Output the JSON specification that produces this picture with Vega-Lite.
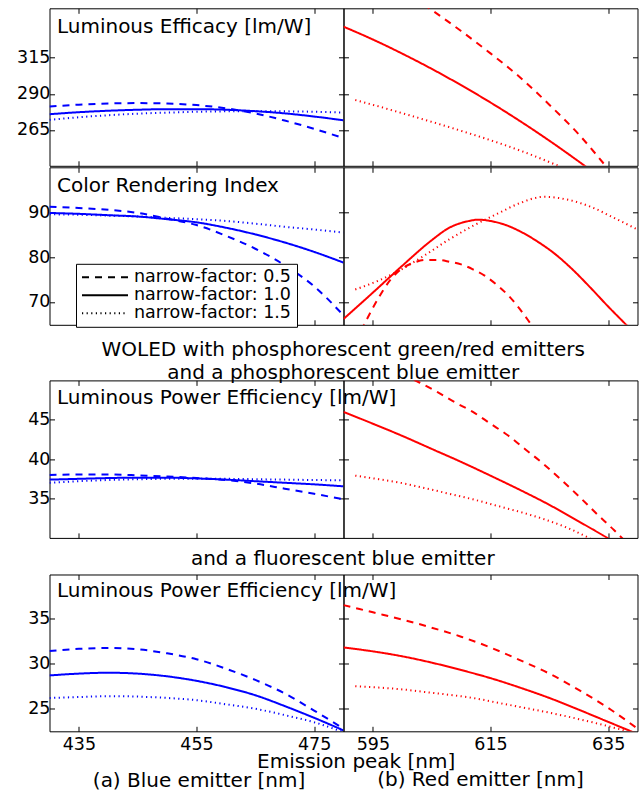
{
"$schema":"https://vega.github.io/schema/vega-lite/v6.json",
"padding":{"left":4.5,"top":7.3,"right":4,"bottom":3},
"background":"white",
"config":{
 "font":"DejaVu Sans",
 "view":{"stroke":"black","strokeWidth":1,"fill":null},
 "axis":{"grid":false,"domain":false,"ticks":true,"tickColor":"black","tickSize":-5,"tickWidth":1,"labelFont":"DejaVu Sans","labelFontSize":17.5,"labelColor":"black","labelPadding":4.6,"labelFlush":false,"labelOverlap":false,"labelBound":false,"titleFont":"DejaVu Sans","titleFontSize":20,"titleFontWeight":"normal","titleColor":"black","minExtent":0},
 "axisX":{"labelPadding":9.2,"minExtent":0},
 "axisY":{"minExtent":0},
 "title":{"font":"DejaVu Sans","fontSize":20,"fontWeight":"normal","color":"black"}
},
"datasets":{
 "r1b":[
  {"nf":"0.5","wl":430,"v":281.2},{"nf":"0.5","wl":435,"v":282.5},{"nf":"0.5","wl":440,"v":283.3},{"nf":"0.5","wl":445,"v":283.6},{"nf":"0.5","wl":450,"v":283.3},{"nf":"0.5","wl":455,"v":282.2},{"nf":"0.5","wl":460,"v":280.0},{"nf":"0.5","wl":465,"v":276.5},{"nf":"0.5","wl":470,"v":271.5},{"nf":"0.5","wl":475,"v":265.8},{"nf":"0.5","wl":480,"v":259.3},
  {"nf":"1.0","wl":430,"v":275.9},{"nf":"1.0","wl":435,"v":277.3},{"nf":"1.0","wl":440,"v":278.3},{"nf":"1.0","wl":445,"v":279.0},{"nf":"1.0","wl":450,"v":279.4},{"nf":"1.0","wl":455,"v":279.4},{"nf":"1.0","wl":460,"v":279.0},{"nf":"1.0","wl":465,"v":278.0},{"nf":"1.0","wl":470,"v":276.5},{"nf":"1.0","wl":475,"v":274.3},{"nf":"1.0","wl":480,"v":271.7},
  {"nf":"1.5","wl":430,"v":272.0},{"nf":"1.5","wl":435,"v":273.8},{"nf":"1.5","wl":440,"v":275.2},{"nf":"1.5","wl":445,"v":276.3},{"nf":"1.5","wl":450,"v":277.0},{"nf":"1.5","wl":455,"v":277.6},{"nf":"1.5","wl":460,"v":277.9},{"nf":"1.5","wl":465,"v":278.0},{"nf":"1.5","wl":470,"v":277.9},{"nf":"1.5","wl":475,"v":277.6},{"nf":"1.5","wl":480,"v":277.0}],
 "r1r":[
  {"nf":"0.5","wl":600,"v":362},{"nf":"0.5","wl":605,"v":348},{"nf":"0.5","wl":610,"v":333.5},{"nf":"0.5","wl":615,"v":318},{"nf":"0.5","wl":620,"v":301.5},{"nf":"0.5","wl":625,"v":282.5},{"nf":"0.5","wl":630,"v":262},{"nf":"0.5","wl":635,"v":238},
  {"nf":"1.0","wl":590,"v":336.5},{"nf":"1.0","wl":595,"v":327.6},{"nf":"1.0","wl":600,"v":317.8},{"nf":"1.0","wl":605,"v":307.3},{"nf":"1.0","wl":610,"v":296.0},{"nf":"1.0","wl":615,"v":284.0},{"nf":"1.0","wl":620,"v":271.2},{"nf":"1.0","wl":625,"v":257.6},{"nf":"1.0","wl":630,"v":243.2},{"nf":"1.0","wl":635,"v":228.1},
  {"nf":"1.5","wl":592,"v":285.7},{"nf":"1.5","wl":595,"v":282.4},{"nf":"1.5","wl":600,"v":276.6},{"nf":"1.5","wl":605,"v":270.6},{"nf":"1.5","wl":610,"v":264.4},{"nf":"1.5","wl":615,"v":257.9},{"nf":"1.5","wl":620,"v":250.8},{"nf":"1.5","wl":625,"v":242.8},{"nf":"1.5","wl":630,"v":234}],
 "r2b":[
  {"nf":"0.5","wl":430,"v":91.3},{"nf":"0.5","wl":435,"v":91.0},{"nf":"0.5","wl":440,"v":90.6},{"nf":"0.5","wl":445,"v":89.9},{"nf":"0.5","wl":450,"v":88.6},{"nf":"0.5","wl":455,"v":87.2},{"nf":"0.5","wl":460,"v":84.8},{"nf":"0.5","wl":465,"v":81.9},{"nf":"0.5","wl":470,"v":78.2},{"nf":"0.5","wl":475,"v":73.5},{"nf":"0.5","wl":480,"v":67.0},
  {"nf":"1.0","wl":430,"v":89.9},{"nf":"1.0","wl":435,"v":89.7},{"nf":"1.0","wl":440,"v":89.4},{"nf":"1.0","wl":445,"v":89.1},{"nf":"1.0","wl":450,"v":88.5},{"nf":"1.0","wl":455,"v":87.8},{"nf":"1.0","wl":460,"v":86.6},{"nf":"1.0","wl":465,"v":85.1},{"nf":"1.0","wl":470,"v":83.3},{"nf":"1.0","wl":475,"v":81.2},{"nf":"1.0","wl":480,"v":78.8},
  {"nf":"1.5","wl":430,"v":89.6},{"nf":"1.5","wl":435,"v":89.5},{"nf":"1.5","wl":440,"v":89.3},{"nf":"1.5","wl":445,"v":89.1},{"nf":"1.5","wl":450,"v":88.8},{"nf":"1.5","wl":455,"v":88.5},{"nf":"1.5","wl":460,"v":88.1},{"nf":"1.5","wl":465,"v":87.5},{"nf":"1.5","wl":470,"v":86.8},{"nf":"1.5","wl":475,"v":86.2},{"nf":"1.5","wl":480,"v":85.5}],
 "r2r":[
  {"nf":"0.5","wl":592,"v":61},{"nf":"0.5","wl":594,"v":66.2},{"nf":"0.5","wl":596,"v":71},{"nf":"0.5","wl":598,"v":75},{"nf":"0.5","wl":600,"v":77.5},{"nf":"0.5","wl":602,"v":78.8},{"nf":"0.5","wl":604,"v":79.4},{"nf":"0.5","wl":606,"v":79.4},{"nf":"0.5","wl":608,"v":79.0},{"nf":"0.5","wl":610,"v":78.4},{"nf":"0.5","wl":612,"v":77.3},{"nf":"0.5","wl":614,"v":75.9},{"nf":"0.5","wl":616,"v":73.9},{"nf":"0.5","wl":618,"v":71.5},{"nf":"0.5","wl":620,"v":68.4},{"nf":"0.5","wl":622,"v":64.8},{"nf":"0.5","wl":623,"v":63},
  {"nf":"1.0","wl":590,"v":66.2},{"nf":"1.0","wl":595,"v":72.1},{"nf":"1.0","wl":600,"v":78.1},{"nf":"1.0","wl":605,"v":83.8},{"nf":"1.0","wl":608,"v":86.6},{"nf":"1.0","wl":611,"v":88.0},{"nf":"1.0","wl":613,"v":88.4},{"nf":"1.0","wl":615,"v":88.1},{"nf":"1.0","wl":618,"v":87.0},{"nf":"1.0","wl":620,"v":85.8},{"nf":"1.0","wl":623,"v":83.5},{"nf":"1.0","wl":626,"v":80.7},{"nf":"1.0","wl":629,"v":77.2},{"nf":"1.0","wl":632,"v":73.2},{"nf":"1.0","wl":635,"v":69.0},{"nf":"1.0","wl":638,"v":65.0},{"nf":"1.0","wl":640,"v":62.3},
  {"nf":"1.5","wl":592,"v":72.8},{"nf":"1.5","wl":596,"v":74.8},{"nf":"1.5","wl":600,"v":77.4},{"nf":"1.5","wl":604,"v":80.6},{"nf":"1.5","wl":608,"v":84.0},{"nf":"1.5","wl":612,"v":87.0},{"nf":"1.5","wl":616,"v":89.6},{"nf":"1.5","wl":620,"v":92.1},{"nf":"1.5","wl":624,"v":93.5},{"nf":"1.5","wl":628,"v":92.9},{"nf":"1.5","wl":632,"v":91.3},{"nf":"1.5","wl":636,"v":88.8},{"nf":"1.5","wl":640,"v":86.2}],
 "r3b":[
  {"nf":"0.5","wl":430,"v":38.0},{"nf":"0.5","wl":435,"v":38.05},{"nf":"0.5","wl":440,"v":38.05},{"nf":"0.5","wl":445,"v":37.95},{"nf":"0.5","wl":450,"v":37.8},{"nf":"0.5","wl":455,"v":37.6},{"nf":"0.5","wl":460,"v":37.35},{"nf":"0.5","wl":465,"v":36.9},{"nf":"0.5","wl":470,"v":36.25},{"nf":"0.5","wl":475,"v":35.6},{"nf":"0.5","wl":480,"v":34.9},
  {"nf":"1.0","wl":430,"v":37.4},{"nf":"1.0","wl":435,"v":37.5},{"nf":"1.0","wl":440,"v":37.6},{"nf":"1.0","wl":445,"v":37.65},{"nf":"1.0","wl":450,"v":37.65},{"nf":"1.0","wl":455,"v":37.55},{"nf":"1.0","wl":460,"v":37.4},{"nf":"1.0","wl":465,"v":37.2},{"nf":"1.0","wl":470,"v":37.0},{"nf":"1.0","wl":475,"v":36.8},{"nf":"1.0","wl":480,"v":36.55},
  {"nf":"1.5","wl":430,"v":37.0},{"nf":"1.5","wl":435,"v":37.2},{"nf":"1.5","wl":440,"v":37.35},{"nf":"1.5","wl":445,"v":37.45},{"nf":"1.5","wl":450,"v":37.5},{"nf":"1.5","wl":455,"v":37.5},{"nf":"1.5","wl":460,"v":37.5},{"nf":"1.5","wl":465,"v":37.45},{"nf":"1.5","wl":470,"v":37.4},{"nf":"1.5","wl":475,"v":37.35},{"nf":"1.5","wl":480,"v":37.3}],
 "r3r":[
  {"nf":"0.5","wl":600,"v":50.8},{"nf":"0.5","wl":603,"v":49.7},{"nf":"0.5","wl":606,"v":48.5},{"nf":"0.5","wl":609,"v":47.2},{"nf":"0.5","wl":612,"v":46.0},{"nf":"0.5","wl":615,"v":44.5},{"nf":"0.5","wl":618,"v":43.0},{"nf":"0.5","wl":621,"v":41.2},{"nf":"0.5","wl":624,"v":39.4},{"nf":"0.5","wl":627,"v":37.4},{"nf":"0.5","wl":630,"v":35.3},{"nf":"0.5","wl":633,"v":33.1},{"nf":"0.5","wl":636,"v":31.0},{"nf":"0.5","wl":638,"v":29.5},
  {"nf":"1.0","wl":590,"v":46.0},{"nf":"1.0","wl":595,"v":44.5},{"nf":"1.0","wl":600,"v":42.95},{"nf":"1.0","wl":605,"v":41.3},{"nf":"1.0","wl":610,"v":39.65},{"nf":"1.0","wl":615,"v":37.9},{"nf":"1.0","wl":620,"v":36.1},{"nf":"1.0","wl":625,"v":34.2},{"nf":"1.0","wl":630,"v":32.1},{"nf":"1.0","wl":635,"v":29.95},
  {"nf":"1.5","wl":592,"v":37.9},{"nf":"1.5","wl":596,"v":37.45},{"nf":"1.5","wl":600,"v":36.95},{"nf":"1.5","wl":604,"v":36.3},{"nf":"1.5","wl":608,"v":35.6},{"nf":"1.5","wl":612,"v":34.9},{"nf":"1.5","wl":616,"v":34.1},{"nf":"1.5","wl":620,"v":33.3},{"nf":"1.5","wl":624,"v":32.4},{"nf":"1.5","wl":628,"v":31.3},{"nf":"1.5","wl":632,"v":29.9}],
 "r4b":[
  {"nf":"0.5","wl":430,"v":31.4},{"nf":"0.5","wl":435,"v":31.65},{"nf":"0.5","wl":440,"v":31.75},{"nf":"0.5","wl":445,"v":31.6},{"nf":"0.5","wl":450,"v":31.15},{"nf":"0.5","wl":455,"v":30.5},{"nf":"0.5","wl":460,"v":29.45},{"nf":"0.5","wl":465,"v":28.2},{"nf":"0.5","wl":470,"v":26.7},{"nf":"0.5","wl":475,"v":24.8},{"nf":"0.5","wl":480,"v":22.8},
  {"nf":"1.0","wl":430,"v":28.7},{"nf":"1.0","wl":435,"v":28.9},{"nf":"1.0","wl":440,"v":29.0},{"nf":"1.0","wl":445,"v":28.9},{"nf":"1.0","wl":450,"v":28.6},{"nf":"1.0","wl":455,"v":28.1},{"nf":"1.0","wl":460,"v":27.4},{"nf":"1.0","wl":465,"v":26.5},{"nf":"1.0","wl":470,"v":25.3},{"nf":"1.0","wl":475,"v":24.0},{"nf":"1.0","wl":480,"v":22.6},
  {"nf":"1.5","wl":430,"v":26.2},{"nf":"1.5","wl":435,"v":26.3},{"nf":"1.5","wl":440,"v":26.4},{"nf":"1.5","wl":445,"v":26.35},{"nf":"1.5","wl":450,"v":26.2},{"nf":"1.5","wl":455,"v":25.95},{"nf":"1.5","wl":460,"v":25.5},{"nf":"1.5","wl":465,"v":25.0},{"nf":"1.5","wl":470,"v":24.3},{"nf":"1.5","wl":475,"v":23.5},{"nf":"1.5","wl":480,"v":22.4}],
 "r4r":[
  {"nf":"0.5","wl":590,"v":36.5},{"nf":"0.5","wl":595,"v":35.7},{"nf":"0.5","wl":600,"v":34.9},{"nf":"0.5","wl":605,"v":34.0},{"nf":"0.5","wl":610,"v":33.0},{"nf":"0.5","wl":615,"v":31.8},{"nf":"0.5","wl":620,"v":30.4},{"nf":"0.5","wl":625,"v":28.9},{"nf":"0.5","wl":630,"v":27.1},{"nf":"0.5","wl":635,"v":25.1},{"nf":"0.5","wl":640,"v":22.8},
  {"nf":"1.0","wl":590,"v":31.8},{"nf":"1.0","wl":595,"v":31.37},{"nf":"1.0","wl":600,"v":30.82},{"nf":"1.0","wl":605,"v":30.12},{"nf":"1.0","wl":610,"v":29.3},{"nf":"1.0","wl":615,"v":28.4},{"nf":"1.0","wl":620,"v":27.35},{"nf":"1.0","wl":625,"v":26.2},{"nf":"1.0","wl":630,"v":24.9},{"nf":"1.0","wl":635,"v":23.55},{"nf":"1.0","wl":640,"v":22.2},
  {"nf":"1.5","wl":592,"v":27.5},{"nf":"1.5","wl":596,"v":27.35},{"nf":"1.5","wl":600,"v":27.15},{"nf":"1.5","wl":604,"v":26.85},{"nf":"1.5","wl":608,"v":26.55},{"nf":"1.5","wl":612,"v":26.2},{"nf":"1.5","wl":616,"v":25.7},{"nf":"1.5","wl":620,"v":25.2},{"nf":"1.5","wl":624,"v":24.7},{"nf":"1.5","wl":628,"v":24.15},{"nf":"1.5","wl":632,"v":23.55},{"nf":"1.5","wl":636,"v":22.9},{"nf":"1.5","wl":638,"v":22.55}]
},
"spacing":9.2,
"resolve":{"scale":{"strokeDash":"independent"},"legend":{"strokeDash":"independent"}},
"vconcat":[
 {"spacing":11.1,
  "resolve":{"scale":{"strokeDash":"independent"},"legend":{"strokeDash":"independent"}},
  "vconcat":[
   {"spacing":-3,
    "resolve":{"scale":{"strokeDash":"independent"},"legend":{"strokeDash":"independent"}},
    "vconcat":[
     {"hconcat":[
       {"width":294,"height":157.5,"data":{"name":"r1b"},
        "title":{"text":"Luminous Efficacy [lm/W]","anchor":"start","frame":"group","offset":-29,"dx":7.5},
        "layer":[
         {"transform":[{"filter":"datum.nf != '1.5'"}],"mark":{"type":"line","color":"#0000ff","strokeWidth":2,"clip":true,"interpolate":"monotone"},
          "encoding":{"x":{"field":"wl","type":"quantitative","scale":{"domain":[430,480],"nice":false,"zero":false},"axis":{"orient":"bottom","values":[435,455,475],"labels":false,"title":null}},
           "y":{"field":"v","type":"quantitative","scale":{"domain":[240.2,349.2],"nice":false,"zero":false},"axis":{"orient":"left","values":[265,290,315],"title":null,"minExtent":44}},
           "strokeDash":{"field":"nf","type":"nominal","scale":{"domain":["0.5","1.0","1.5"],"range":[[7,6],[1,0],[1.2,3.4]]},"legend":null}}},
         {"transform":[{"filter":"datum.nf == '1.5'"}],"mark":{"type":"line","color":"#0000ff","strokeWidth":2,"clip":true,"interpolate":"monotone"},
          "encoding":{"x":{"field":"wl","type":"quantitative","scale":{"domain":[430,480],"nice":false,"zero":false},"axis":{"orient":"top","values":[435,455,475],"labels":false,"title":null}},
           "y":{"field":"v","type":"quantitative","scale":{"domain":[240.2,349.2],"nice":false,"zero":false},"axis":{"orient":"right","values":[265,290,315],"labels":false,"title":null}},
           "strokeDash":{"field":"nf","type":"nominal","scale":{"domain":["0.5","1.0","1.5"],"range":[[7,6],[1,0],[1.2,3.4]]},"legend":null}}}],
        "resolve":{"scale":{"x":"independent","y":"independent"}}},
       {"width":294,"height":157.5,"data":{"name":"r1r"},
        "layer":[
         {"transform":[{"filter":"datum.nf != '1.5'"}],"mark":{"type":"line","color":"#ff0000","strokeWidth":2,"clip":true,"interpolate":"monotone"},
          "encoding":{"x":{"field":"wl","type":"quantitative","scale":{"domain":[590,640],"nice":false,"zero":false},"axis":{"orient":"bottom","values":[595,615,635],"labels":false,"title":null}},
           "y":{"field":"v","type":"quantitative","scale":{"domain":[240.2,349.2],"nice":false,"zero":false},"axis":{"orient":"left","values":[265,290,315],"labels":false,"title":null}},
           "strokeDash":{"field":"nf","type":"nominal","scale":{"domain":["0.5","1.0","1.5"],"range":[[7,6],[1,0],[1.2,3.4]]},"legend":null}}},
         {"transform":[{"filter":"datum.nf == '1.5'"}],"mark":{"type":"line","color":"#ff0000","strokeWidth":2,"clip":true,"interpolate":"monotone"},
          "encoding":{"x":{"field":"wl","type":"quantitative","scale":{"domain":[590,640],"nice":false,"zero":false},"axis":{"orient":"top","values":[595,615,635],"labels":false,"title":null}},
           "y":{"field":"v","type":"quantitative","scale":{"domain":[240.2,349.2],"nice":false,"zero":false},"axis":{"orient":"right","values":[265,290,315],"labels":false,"title":null}},
           "strokeDash":{"field":"nf","type":"nominal","scale":{"domain":["0.5","1.0","1.5"],"range":[[7,6],[1,0],[1.2,3.4]]},"legend":null}}}],
        "resolve":{"scale":{"x":"independent","y":"independent"}}}
      ],"spacing":0,"bounds":"flush","resolve":{"scale":{"strokeDash":"independent"},"legend":{"strokeDash":"independent"}}},
     {"hconcat":[
       {"width":294,"height":157.5,"data":{"name":"r2b"},
        "title":{"text":"Color Rendering Index","anchor":"start","frame":"group","offset":-29,"dx":7.5},
        "layer":[
         {"transform":[{"filter":"datum.nf != '1.5'"}],"mark":{"type":"line","color":"#0000ff","strokeWidth":2,"clip":true,"interpolate":"monotone"},
          "encoding":{"x":{"field":"wl","type":"quantitative","scale":{"domain":[430,480],"nice":false,"zero":false},"axis":{"orient":"bottom","values":[435,455,475],"labels":false,"title":null}},
           "y":{"field":"v","type":"quantitative","scale":{"domain":[64.9,100.1],"nice":false,"zero":false},"axis":{"orient":"left","values":[70,80,90],"title":null,"minExtent":44}},
           "strokeDash":{"field":"nf","type":"nominal","scale":{"domain":["0.5","1.0","1.5"],"range":[[7,6],[1,0],[1.2,3.4]]},
            "legend":{"orient":"none","legendX":26.5,"legendY":96.5,"title":null,"symbolType":"stroke","symbolSize":2116,"clipHeight":16.7,"symbolStrokeColor":"black","symbolStrokeWidth":2,"labelFontSize":17.5,"labelFont":"DejaVu Sans","labelColor":"black","labelExpr":"'narrow-factor: ' + datum.label","labelOffset":5,"labelLimit":400,"padding":5,"strokeColor":"black","fillColor":"white","rowPadding":0,"cornerRadius":0,"encode":{"symbols":{"update":{"stroke":{"value":"black"}}}}}}}},
         {"transform":[{"filter":"datum.nf == '1.5'"}],"mark":{"type":"line","color":"#0000ff","strokeWidth":2,"clip":true,"interpolate":"monotone"},
          "encoding":{"x":{"field":"wl","type":"quantitative","scale":{"domain":[430,480],"nice":false,"zero":false},"axis":{"orient":"top","values":[435,455,475],"labels":false,"title":null}},
           "y":{"field":"v","type":"quantitative","scale":{"domain":[64.9,100.1],"nice":false,"zero":false},"axis":{"orient":"right","values":[70,80,90],"labels":false,"title":null}},
           "strokeDash":{"field":"nf","type":"nominal","scale":{"domain":["0.5","1.0","1.5"],"range":[[7,6],[1,0],[1.2,3.4]]},
            "legend":{"orient":"none","legendX":26.5,"legendY":96.5,"title":null,"symbolType":"stroke","symbolSize":2116,"clipHeight":16.7,"symbolStrokeColor":"black","symbolStrokeWidth":2,"labelFontSize":17.5,"labelFont":"DejaVu Sans","labelColor":"black","labelExpr":"'narrow-factor: ' + datum.label","labelOffset":5,"labelLimit":400,"padding":5,"strokeColor":"black","fillColor":"white","rowPadding":0,"cornerRadius":0,"encode":{"symbols":{"update":{"stroke":{"value":"black"}}}}}}}}],
        "resolve":{"scale":{"x":"independent","y":"independent"}}},
       {"width":294,"height":157.5,"data":{"name":"r2r"},
        "layer":[
         {"transform":[{"filter":"datum.nf != '1.5'"}],"mark":{"type":"line","color":"#ff0000","strokeWidth":2,"clip":true,"interpolate":"monotone"},
          "encoding":{"x":{"field":"wl","type":"quantitative","scale":{"domain":[590,640],"nice":false,"zero":false},"axis":{"orient":"bottom","values":[595,615,635],"labels":false,"title":null}},
           "y":{"field":"v","type":"quantitative","scale":{"domain":[64.9,100.1],"nice":false,"zero":false},"axis":{"orient":"left","values":[70,80,90],"labels":false,"title":null}},
           "strokeDash":{"field":"nf","type":"nominal","scale":{"domain":["0.5","1.0","1.5"],"range":[[7,6],[1,0],[1.2,3.4]]},"legend":null}}},
         {"transform":[{"filter":"datum.nf == '1.5'"}],"mark":{"type":"line","color":"#ff0000","strokeWidth":2,"clip":true,"interpolate":"monotone"},
          "encoding":{"x":{"field":"wl","type":"quantitative","scale":{"domain":[590,640],"nice":false,"zero":false},"axis":{"orient":"top","values":[595,615,635],"labels":false,"title":null}},
           "y":{"field":"v","type":"quantitative","scale":{"domain":[64.9,100.1],"nice":false,"zero":false},"axis":{"orient":"right","values":[70,80,90],"labels":false,"title":null}},
           "strokeDash":{"field":"nf","type":"nominal","scale":{"domain":["0.5","1.0","1.5"],"range":[[7,6],[1,0],[1.2,3.4]]},"legend":null}}}],
        "resolve":{"scale":{"x":"independent","y":"independent"}}}
      ],"spacing":0,"bounds":"flush","resolve":{"scale":{"strokeDash":"independent"},"legend":{"strokeDash":"independent"}}}
    ]},
   {"title":{"text":["WOLED with phosphorescent green/red emitters","and a phosphorescent blue emitter"],"anchor":"middle","frame":"bounds","dx":21.5,"lineHeight":23.3,"offset":-3.9},
    "hconcat":[
       {"width":294,"height":157.5,"data":{"name":"r3b"},
        "title":{"text":"Luminous Power Efficiency [lm/W]","anchor":"start","frame":"group","offset":-28.5,"dx":7.5},
        "layer":[
         {"transform":[{"filter":"datum.nf != '1.5'"}],"mark":{"type":"line","color":"#0000ff","strokeWidth":2,"clip":true,"interpolate":"monotone"},
          "encoding":{"x":{"field":"wl","type":"quantitative","scale":{"domain":[430,480],"nice":false,"zero":false},"axis":{"orient":"bottom","values":[435,455,475],"labels":false,"title":null}},
           "y":{"field":"v","type":"quantitative","scale":{"domain":[30,50],"nice":false,"zero":false},"axis":{"orient":"left","values":[35,40,45],"title":null,"minExtent":44}},
           "strokeDash":{"field":"nf","type":"nominal","scale":{"domain":["0.5","1.0","1.5"],"range":[[7,6],[1,0],[1.2,3.4]]},"legend":null}}},
         {"transform":[{"filter":"datum.nf == '1.5'"}],"mark":{"type":"line","color":"#0000ff","strokeWidth":2,"clip":true,"interpolate":"monotone"},
          "encoding":{"x":{"field":"wl","type":"quantitative","scale":{"domain":[430,480],"nice":false,"zero":false},"axis":{"orient":"top","values":[435,455,475],"labels":false,"title":null}},
           "y":{"field":"v","type":"quantitative","scale":{"domain":[30,50],"nice":false,"zero":false},"axis":{"orient":"right","values":[35,40,45],"labels":false,"title":null}},
           "strokeDash":{"field":"nf","type":"nominal","scale":{"domain":["0.5","1.0","1.5"],"range":[[7,6],[1,0],[1.2,3.4]]},"legend":null}}}],
        "resolve":{"scale":{"x":"independent","y":"independent"}}},
       {"width":294,"height":157.5,"data":{"name":"r3r"},
        "layer":[
         {"transform":[{"filter":"datum.nf != '1.5'"}],"mark":{"type":"line","color":"#ff0000","strokeWidth":2,"clip":true,"interpolate":"monotone"},
          "encoding":{"x":{"field":"wl","type":"quantitative","scale":{"domain":[590,640],"nice":false,"zero":false},"axis":{"orient":"bottom","values":[595,615,635],"labels":false,"title":null}},
           "y":{"field":"v","type":"quantitative","scale":{"domain":[30,50],"nice":false,"zero":false},"axis":{"orient":"left","values":[35,40,45],"labels":false,"title":null}},
           "strokeDash":{"field":"nf","type":"nominal","scale":{"domain":["0.5","1.0","1.5"],"range":[[7,6],[1,0],[1.2,3.4]]},"legend":null}}},
         {"transform":[{"filter":"datum.nf == '1.5'"}],"mark":{"type":"line","color":"#ff0000","strokeWidth":2,"clip":true,"interpolate":"monotone"},
          "encoding":{"x":{"field":"wl","type":"quantitative","scale":{"domain":[590,640],"nice":false,"zero":false},"axis":{"orient":"top","values":[595,615,635],"labels":false,"title":null}},
           "y":{"field":"v","type":"quantitative","scale":{"domain":[30,50],"nice":false,"zero":false},"axis":{"orient":"right","values":[35,40,45],"labels":false,"title":null}},
           "strokeDash":{"field":"nf","type":"nominal","scale":{"domain":["0.5","1.0","1.5"],"range":[[7,6],[1,0],[1.2,3.4]]},"legend":null}}}],
        "resolve":{"scale":{"x":"independent","y":"independent"}}}
    ],"spacing":0,"bounds":"flush","resolve":{"scale":{"strokeDash":"independent"},"legend":{"strokeDash":"independent"}}}
  ]},
 {"title":{"text":"and a fluorescent blue emitter","anchor":"middle","frame":"bounds","dx":21,"offset":4.2},
  "hconcat":[
       {"width":294,"height":156.8,"data":{"name":"r4b"},
        "title":{"text":"Luminous Power Efficiency [lm/W]","anchor":"start","frame":"group","offset":-27.5,"dx":7.5},
        "layer":[
         {"transform":[{"filter":"datum.nf != '1.5'"}],"mark":{"type":"line","color":"#0000ff","strokeWidth":2,"clip":true,"interpolate":"monotone"},
          "encoding":{"x":{"field":"wl","type":"quantitative","scale":{"domain":[430,480],"nice":false,"zero":false},"axis":{"orient":"bottom","values":[435,455,475],"title":"(a) Blue emitter [nm]","titleX":149,"titleY":55,"titleBaseline":"alphabetic","titleAlign":"center"}},
           "y":{"field":"v","type":"quantitative","scale":{"domain":[22.5,39.9],"nice":false,"zero":false},"axis":{"orient":"left","values":[25,30,35],"title":null,"minExtent":44}},
           "strokeDash":{"field":"nf","type":"nominal","scale":{"domain":["0.5","1.0","1.5"],"range":[[7,6],[1,0],[1.2,3.4]]},"legend":null}}},
         {"transform":[{"filter":"datum.nf == '1.5'"}],"mark":{"type":"line","color":"#0000ff","strokeWidth":2,"clip":true,"interpolate":"monotone"},
          "encoding":{"x":{"field":"wl","type":"quantitative","scale":{"domain":[430,480],"nice":false,"zero":false},"axis":{"orient":"top","values":[435,455,475],"labels":false,"title":null}},
           "y":{"field":"v","type":"quantitative","scale":{"domain":[22.5,39.9],"nice":false,"zero":false},"axis":{"orient":"right","values":[25,30,35],"labels":false,"title":null}},
           "strokeDash":{"field":"nf","type":"nominal","scale":{"domain":["0.5","1.0","1.5"],"range":[[7,6],[1,0],[1.2,3.4]]},"legend":null}}}],
        "resolve":{"scale":{"x":"independent","y":"independent"}}},
       {"width":294,"height":156.8,"data":{"name":"r4r"},
        "title":{"text":"(b) Red emitter [nm]","orient":"bottom","anchor":"middle","frame":"group","dx":-10,"offset":-1.5},
        "layer":[
         {"transform":[{"filter":"datum.nf != '1.5'"}],"mark":{"type":"line","color":"#ff0000","strokeWidth":2,"clip":true,"interpolate":"monotone"},
          "encoding":{"x":{"field":"wl","type":"quantitative","scale":{"domain":[590,640],"nice":false,"zero":false},"axis":{"orient":"bottom","values":[595,615,635],"title":"Emission peak [nm]","titleX":12.2,"titleY":36.4,"titleBaseline":"alphabetic","titleAlign":"center"}},
           "y":{"field":"v","type":"quantitative","scale":{"domain":[22.5,39.9],"nice":false,"zero":false},"axis":{"orient":"left","values":[25,30,35],"labels":false,"title":null}},
           "strokeDash":{"field":"nf","type":"nominal","scale":{"domain":["0.5","1.0","1.5"],"range":[[7,6],[1,0],[1.2,3.4]]},"legend":null}}},
         {"transform":[{"filter":"datum.nf == '1.5'"}],"mark":{"type":"line","color":"#ff0000","strokeWidth":2,"clip":true,"interpolate":"monotone"},
          "encoding":{"x":{"field":"wl","type":"quantitative","scale":{"domain":[590,640],"nice":false,"zero":false},"axis":{"orient":"top","values":[595,615,635],"labels":false,"title":null}},
           "y":{"field":"v","type":"quantitative","scale":{"domain":[22.5,39.9],"nice":false,"zero":false},"axis":{"orient":"right","values":[25,30,35],"labels":false,"title":null}},
           "strokeDash":{"field":"nf","type":"nominal","scale":{"domain":["0.5","1.0","1.5"],"range":[[7,6],[1,0],[1.2,3.4]]},"legend":null}}}],
        "resolve":{"scale":{"x":"independent","y":"independent"}}}
  ],"spacing":0,"bounds":"flush","resolve":{"scale":{"strokeDash":"independent"},"legend":{"strokeDash":"independent"}}}
]
}
